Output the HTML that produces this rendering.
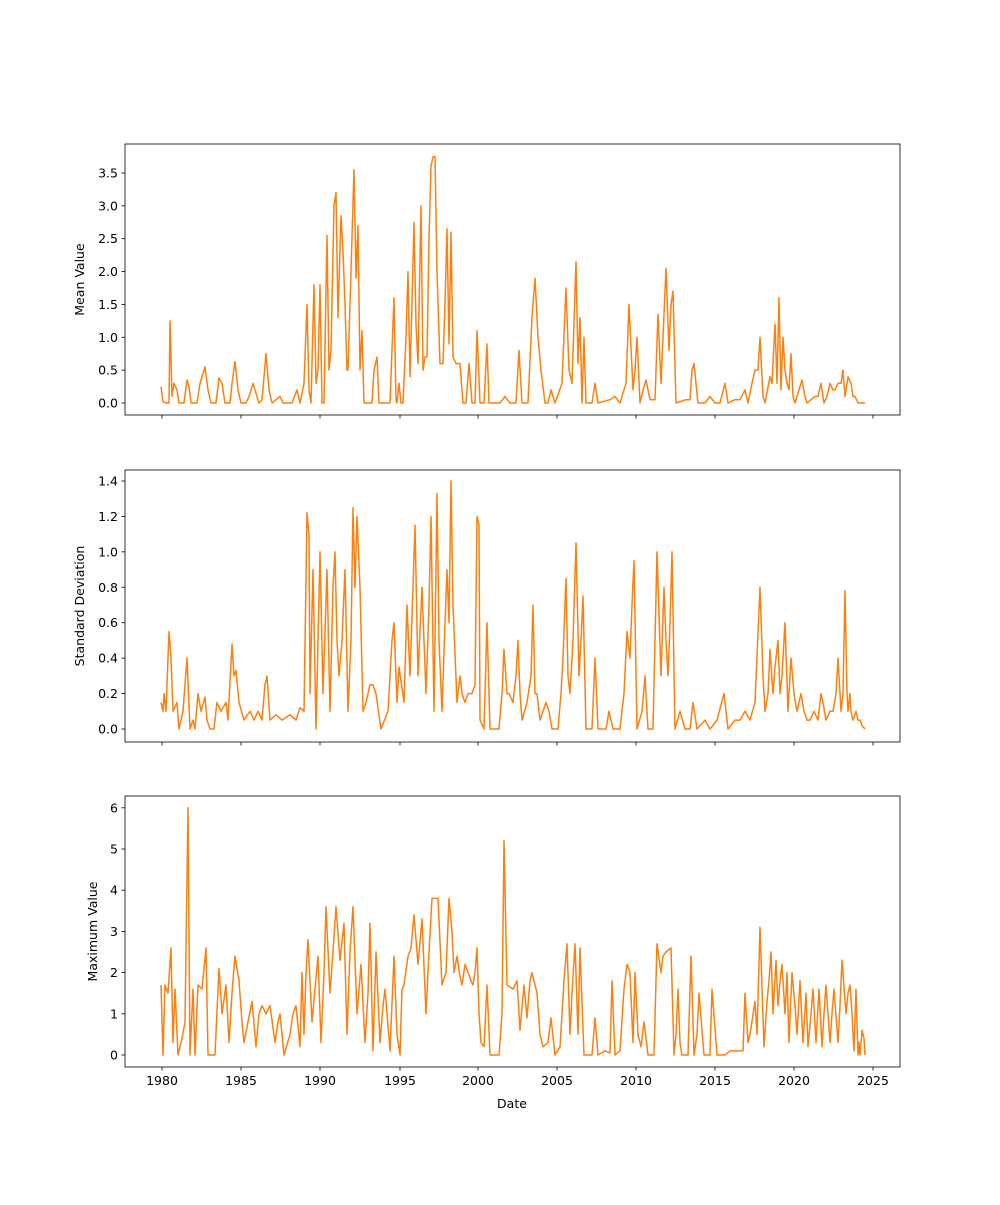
<!DOCTYPE html>
<html><head><meta charset="utf-8"><style>
html,body{margin:0;padding:0;background:#fff}
svg text{font-family:"DejaVu Sans","Liberation Sans",sans-serif;font-size:12.5px;fill:#000}
</style></head><body>
<svg id="s" width="1000" height="1200" xmlns="http://www.w3.org/2000/svg"></svg>
<script>
const S=document.getElementById('s');
const NS='http://www.w3.org/2000/svg';
function el(t,a,txt){const e=document.createElementNS(NS,t);for(const k in a)e.setAttribute(k,a[k]);if(txt!==undefined)e.textContent=txt;S.appendChild(e);return e;}
const L=125,R=900;
const xt=[[1980,162],[1985,241],[1990,320],[1995,400],[2000,478],[2005,557],[2010,636],[2015,715],[2020,794],[2025,873]];
const panels=[
{top:144,bot:415,y0:403,step:32.86,unit:0.5,ticks:[0,0.5,1,1.5,2,2.5,3,3.5],fmt:v=>v.toFixed(1),label:'Mean Value',lx:84,
d:[161,.25,163,.02,166,0,169,0,170,1.25,172,.1,174,.3,177,.2,179,0,184,0,187,.35,189,.25,191,0,197,0,200,.3,205,.55,208,.2,211,0,216,0,219,.38,222,.3,225,0,230,0,232,.3,235,.63,238,.2,241,0,246,0,249,.1,253,.3,256,.15,259,0,262,.05,266,.75,269,.2,272,0,276,.05,280,.1,283,0,292,0,297,.2,300,0,304,.3,307,1.5,309,.2,311,0,314,1.8,316,.3,318,.5,320,1.8,322,0,324,0,327,2.55,329,.5,331,.8,334,3.0,336,3.2,338,1.3,341,2.85,343,2.3,345,1.5,347,.5,348,.5,351,2.0,354,3.55,356,1.9,358,2.7,360,.5,362,1.1,364,0,367,0,372,0,374,.5,377,.7,379,0,384,0,390,0,394,1.6,396,.05,397,0,399,.3,401,0,403,0,406,1.0,408,2.0,410,.4,412,1.5,414,2.75,416,1.2,418,.6,421,3.0,423,.5,425,.7,427,.7,429,2.5,431,3.6,433,3.75,435,3.75,437,2.0,440,.6,443,.6,445,1.5,447,2.65,449,.9,451,2.6,453,.7,456,.6,460,.6,463,0,466,0,469,.6,472,0,475,0,477,1.1,480,0,484,0,487,.9,489,0,500,0,505,.1,510,0,516,0,519,.8,522,0,528,0,532,1.3,535,1.9,538,1.0,541,.5,545,0,548,0,551,.2,555,0,562,.3,566,1.75,569,.5,572,.3,576,2.15,578,.6,580,1.3,582,0,584,1.0,586,0,592,0,595,.3,598,0,610,.05,615,.1,620,0,626,.3,629,1.5,633,.2,635,.5,637,1.0,640,0,643,.2,646,.35,650,.05,655,.05,658,1.35,661,.3,663,1.0,666,2.05,669,.8,671,1.5,673,1.7,676,0,686,.05,690,.05,692,.5,694,.6,698,0,705,0,710,.1,715,0,720,0,725,.3,728,0,735,.05,740,.05,745,.2,748,0,752,.3,755,.5,758,.5,760,1.0,763,.1,765,0,770,.4,772,.3,775,1.2,777,.3,779,1.6,781,.2,783,1.0,785,.5,787,.3,789,.2,791,.75,793,.1,795,0,799,.2,802,.35,805,.1,807,0,815,.1,818,.1,821,.3,824,0,827,.1,830,.3,833,.2,835,.2,838,.3,841,.3,843,.5,845,.1,848,.4,851,.3,853,.1,855,.1,858,0,865,0]},
{top:470,bot:742,y0:729,step:35.43,unit:0.2,ticks:[0,.2,.4,.6,.8,1,1.2,1.4],fmt:v=>v.toFixed(1),label:'Standard Deviation',lx:84,
d:[161,.15,163,.1,164,.2,166,.1,169,.55,171,.4,173,.1,177,.15,179,0,183,.1,187,.4,190,0,193,.05,195,0,198,.2,201,.1,205,.18,207,.05,210,0,214,0,217,.15,221,.1,226,.15,228,.05,232,.48,234,.3,236,.33,239,.15,244,.05,250,.1,254,.05,258,.1,262,.05,265,.25,267,.3,270,.05,276,.08,282,.05,290,.08,296,.05,300,.12,304,.1,307,1.22,309,1.1,310,.2,313,.9,316,0,320,1.0,323,.2,327,.9,330,.1,333,.8,335,1.0,337,.5,339,.3,342,.5,345,.9,348,.1,351,.5,353,1.25,355,.8,357,1.2,360,.8,363,.1,366,.15,370,.25,373,.25,376,.2,381,0,388,.1,392,.5,394,.6,397,.15,399,.35,404,.15,407,.7,410,.3,413,.8,415,1.15,418,.3,422,.8,426,.2,429,.7,431,1.2,434,.1,437,1.33,439,.5,442,.1,445,.6,447,.9,449,.6,451,1.4,453,.7,457,.15,460,.3,462,.2,465,.15,468,.2,472,.2,475,.25,477,1.2,479,1.15,480,.05,484,0,487,.6,490,0,499,0,502,.2,504,.45,507,.2,509,.2,513,.15,516,.3,518,.5,520,.2,522,.05,527,.15,531,.3,533,.7,535,.2,537,.2,540,.05,543,.1,546,.15,549,.1,552,0,558,0,561,.2,563,.4,566,.85,568,.3,570,.2,573,.5,576,1.05,579,.3,581,.5,583,.75,586,0,592,0,595,.4,598,0,606,0,609,.1,613,0,620,0,624,.2,627,.55,630,.4,632,.7,634,.95,637,0,642,.1,645,.3,648,0,653,0,657,1.0,661,.3,664,.8,666,.5,668,.3,670,.6,672,1.0,675,0,680,.1,685,0,690,0,693,.15,697,0,705,.05,710,0,717,.05,724,.2,728,0,735,.05,740,.05,745,.1,750,.05,755,.15,760,.8,763,.3,765,.1,768,.2,770,.45,773,.2,775,.35,778,.5,780,.2,782,.3,785,.6,788,.1,791,.4,794,.2,797,.1,801,.2,804,.1,807,.05,810,.05,814,.1,818,.05,821,.2,823,.15,826,.05,830,.1,833,.1,836,.2,838,.4,841,.1,843,.2,845,.78,847,.2,848,.1,850,.2,851,.1,853,.05,856,.1,858,.05,860,.05,862,.02,865,0]},
{top:796,bot:1067,y0:1055,step:41.2,unit:1,ticks:[0,1,2,3,4,5,6],fmt:v=>String(v),label:'Maximum Value',lx:97,
d:[161,1.7,163,0,165,1.7,168,1.5,171,2.6,173,.3,175,1.6,178,0,182,.4,185,.8,188,6.0,190,0,193,1.6,195,0,198,1.7,202,1.6,206,2.6,208,0,215,0,219,2.1,222,1.0,226,1.7,229,.3,232,1.5,235,2.4,239,1.8,242,.8,244,.3,248,.8,252,1.3,256,.2,259,1.0,262,1.2,266,1.0,270,1.2,275,.3,278,.8,280,1.0,284,0,290,.5,293,1.0,296,1.2,300,.2,302,2.0,304,.5,306,2.0,308,2.8,312,.8,315,1.6,318,2.4,321,.3,324,2.0,326,3.6,330,1.5,333,2.5,336,3.6,340,2.3,344,3.2,347,.5,350,2.5,353,3.6,357,1.0,361,2.2,365,.3,368,1.5,370,3.2,373,.1,376,2.5,380,.3,383,1.2,385,1.6,390,.1,394,2.4,397,.5,400,0,402,1.6,404,1.7,408,2.4,411,2.6,414,3.4,418,2.2,422,3.3,426,1.0,429,2.5,432,3.8,438,3.8,442,1.7,446,2.0,449,3.8,452,3.0,454,2.0,457,2.4,460,1.9,462,1.7,465,2.2,468,2.0,471,1.8,473,1.7,475,2.0,477,2.6,479,1.0,481,.3,484,.2,487,1.7,490,0,499,0,502,1.0,504,5.2,507,1.7,513,1.6,517,1.8,520,.6,524,1.7,527,.9,530,1.8,532,2.0,537,1.5,540,.5,543,.2,548,.3,551,.9,555,0,560,.2,564,1.8,567,2.7,570,.5,572,1.5,575,2.7,578,.5,580,2.6,584,0,592,0,595,.9,598,0,605,.1,610,.05,612,1.8,615,0,620,.1,624,1.6,627,2.2,630,2.0,633,.3,635,2.0,638,.5,641,.2,644,.8,648,0,654,0,657,2.7,661,2.0,663,2.4,666,2.5,671,2.6,674,0,676,.5,678,1.6,680,.3,682,0,688,0,691,2.4,694,0,697,.5,699,1.5,704,0,710,0,712,1.6,717,0,725,0,730,.1,740,.1,743,.1,745,1.5,748,.3,750,.5,755,1.3,757,.5,760,3.1,764,.2,767,1.3,769,1.8,771,2.5,773,1.0,776,2.3,778,1.2,780,1.8,782,2.2,785,1.0,787,2.0,789,.3,792,2.0,795,1.2,797,.5,800,1.8,803,.3,806,1.5,808,.2,811,1.0,813,1.6,816,.3,819,1.6,822,.2,824,1.0,826,1.7,830,.3,832,1.0,834,1.6,838,.3,840,1.2,842,2.3,846,1.0,848,1.5,850,1.7,852,1.0,854,.1,856,1.6,858,0,859,.3,860,0,862,.6,864,.4,865,0]}
];
panels.forEach((p,i)=>{
  el('rect',{x:L,y:p.top,width:R-L,height:p.bot-p.top,fill:'none',stroke:'#000','stroke-width':0.8});
  p.ticks.forEach(v=>{const y=p.y0-v/p.unit*p.step;
    el('line',{x1:L-3.5,x2:L,y1:y,y2:y,stroke:'#000','stroke-width':0.8});
    el('text',{x:L-7,y:y+4.5,'text-anchor':'end'},p.fmt(v));});
  xt.forEach(([yr,x])=>{
    el('line',{x1:x,x2:x,y1:p.bot,y2:p.bot+3.5,stroke:'#000','stroke-width':0.8});
    if(i==2)el('text',{x:x,y:p.bot+18,'text-anchor':'middle'},String(yr));});
  const cy=(p.top+p.bot)/2;
  el('text',{x:p.lx,y:cy,'text-anchor':'middle',transform:`rotate(-90 ${p.lx} ${cy})`},p.label);
  let pts=[];for(let k=0;k<p.d.length;k+=2)pts.push(p.d[k]+','+(p.y0-p.d[k+1]/p.unit*p.step).toFixed(1));
  el('polyline',{points:pts.join(' '),fill:'none',stroke:'#ff7f0e','stroke-width':1.5,'stroke-linejoin':'round'});
});
el('text',{x:512,y:1108,'text-anchor':'middle'},'Date');
</script>
</body></html>
